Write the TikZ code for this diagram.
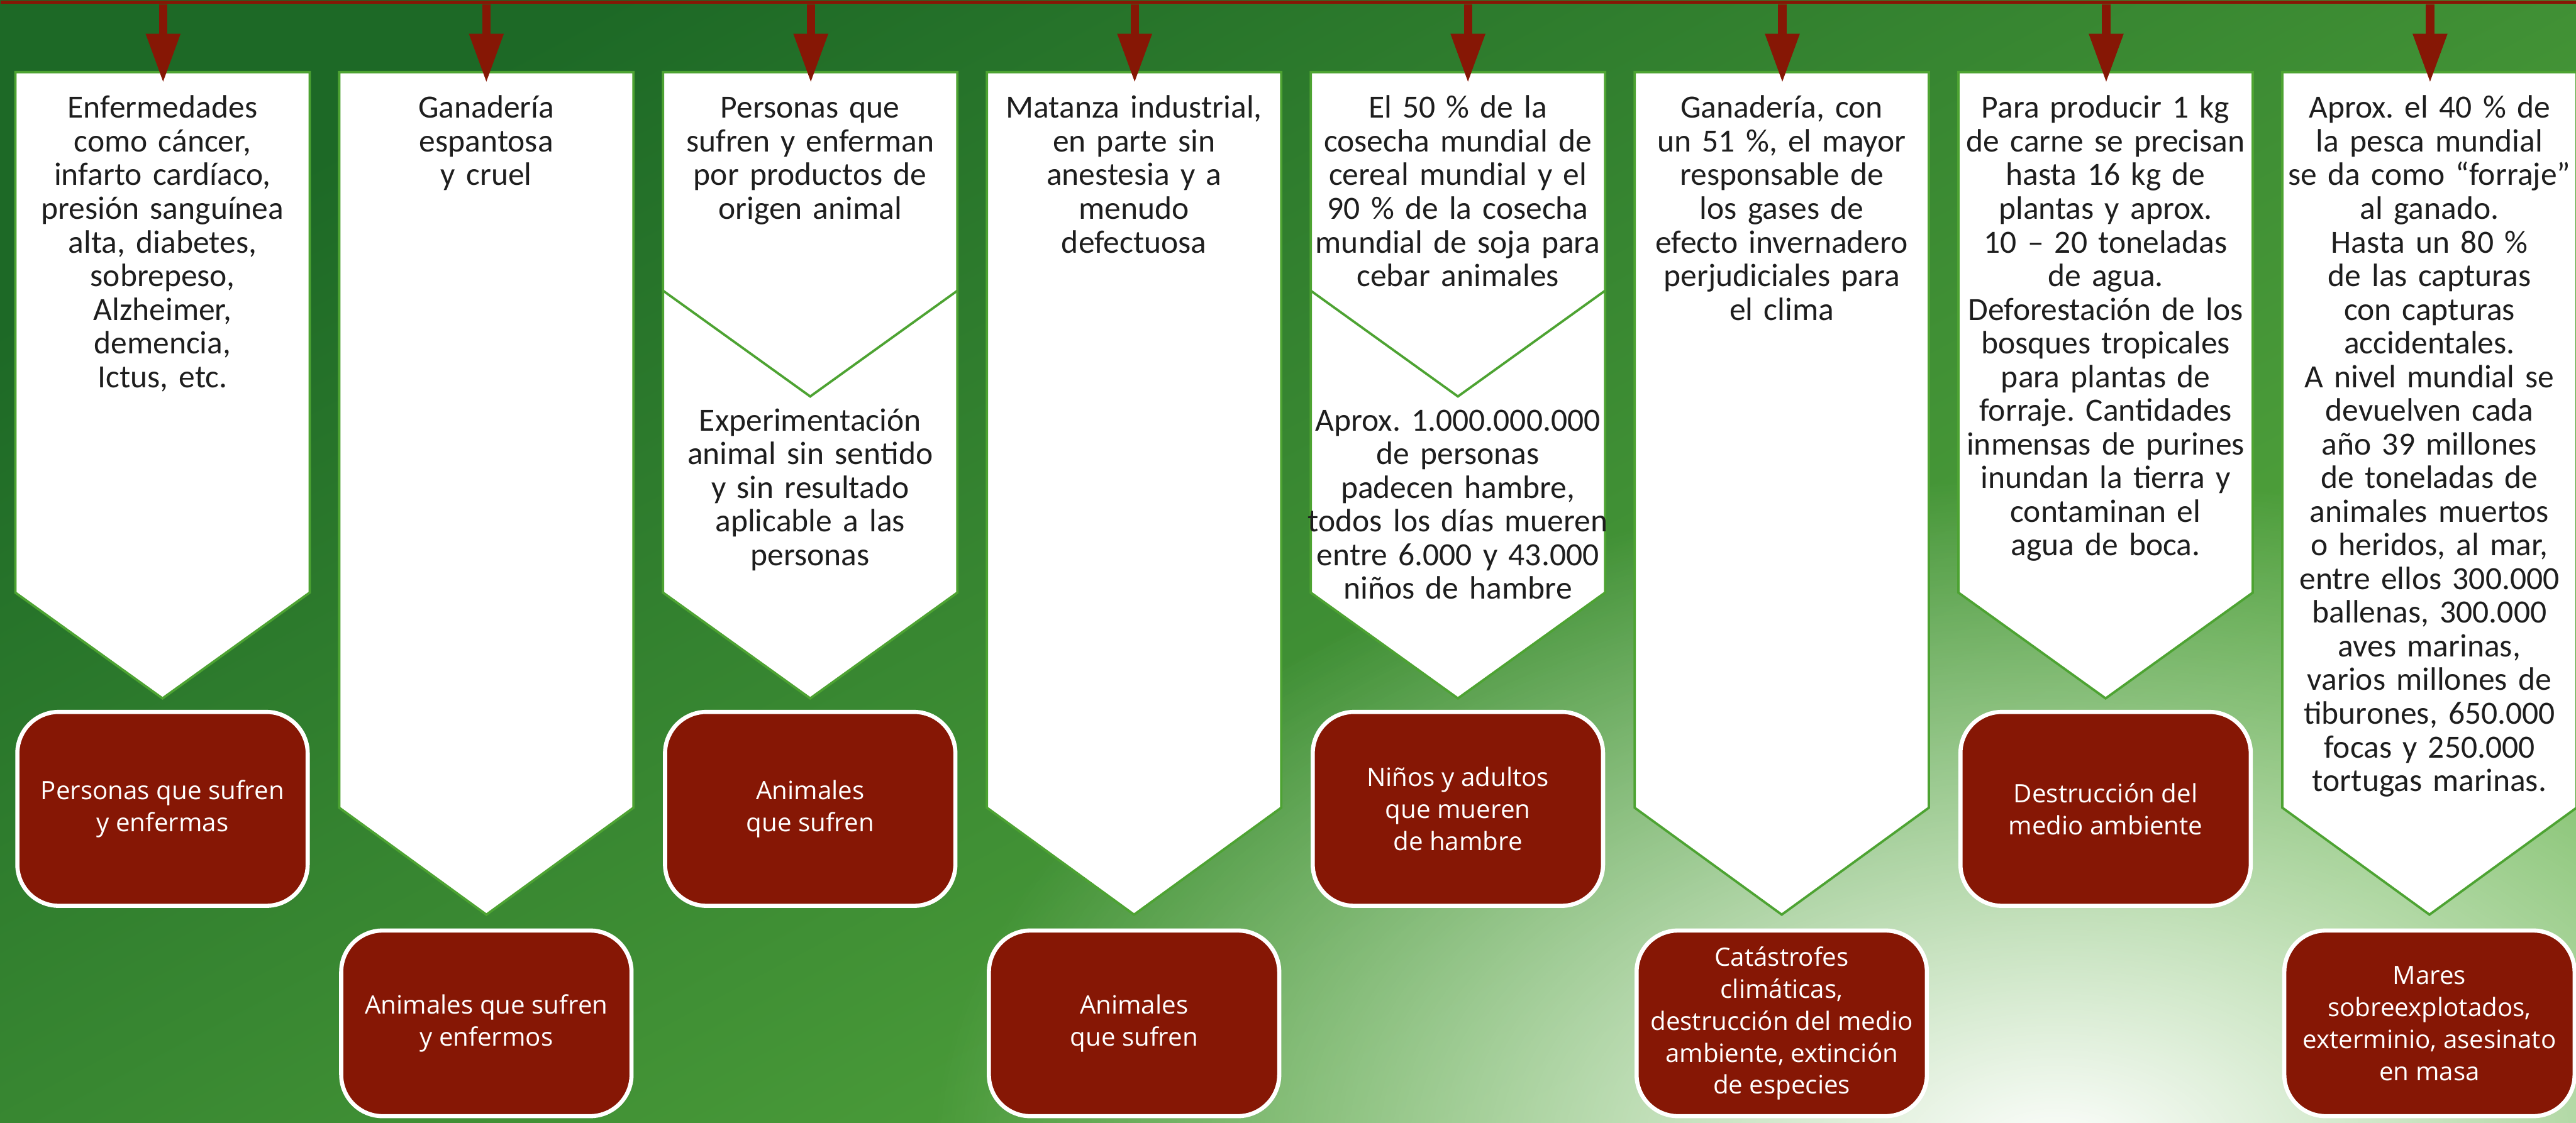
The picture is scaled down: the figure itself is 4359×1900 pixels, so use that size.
\documentclass[tikz,border=0pt]{standalone}
\usepackage{fontspec}
\setmainfont{Carlito}
\newfontfamily\harmfont{Open Sans}
\usetikzlibrary{arrows.meta, fadings, positioning}
\frenchspacing

\definecolor{bgdark}{HTML}{1D6926}
\definecolor{bgmid}{HTML}{2E8C30}
\definecolor{bglight}{HTML}{5BAE40}
\definecolor{panelgreen}{HTML}{4DA332}
\definecolor{harmred}{HTML}{861705}
\definecolor{inktext}{HTML}{1E1E1E}

\tikzfading[name=glowfade, inner color=transparent!0, outer color=transparent!100]

\tikzset{Harms/.style = {% chart of the harms
     x=0.01cm, y=-0.01cm,
     panel/.style = {draw=panelgreen, fill=white, line width=0.04cm, line join=miter},
panelsplit/.style = {draw=panelgreen, line width=0.04cm},
  infotext/.style = {anchor=base, inner sep=0pt, text width=5.4cm, align=center,
                     text=inktext, font=\fontsize{15.6}{16.2}\selectfont},
   harmbox/.style = {draw=white, line width=0.07cm, fill=harmred, rounded corners=0.7cm,
                     minimum width=4.91cm, text=white, align=center,
                     font=\harmfont\fontsize{12.2}{15.4}\selectfont},
  shortbox/.style = {harmbox, minimum height=3.28cm},
   longbox/.style = {harmbox, minimum height=3.14cm},
    topbar/.style = {fill=harmred, inner sep=0pt, anchor=north west,
                     minimum width=43.59cm, minimum height=0.06cm},
 harmarrow/.style = {draw=harmred, line width=0.14cm,
                     -{Triangle[width=0.55cm, length=0.83cm]}}}
        }

\begin{document}
\begin{tikzpicture}[Harms]
\useasboundingbox (0,0) rectangle (4359,1900);

% background
\begin{scope}
\clip (0,0) rectangle (4359,1900);
\shade[top color=bgdark, middle color=bgmid, bottom color=bglight, shading angle=28]
  (0,0) rectangle (4359,1900);
\fill[white, path fading=glowfade] (3480,1960) ellipse [x radius=19cm, y radius=11.5cm];
\end{scope}

% panels
\foreach \L/\S/\T in {26/1003/1182, 574/1367/1548, 1122/1003/1182, 1670/1367/1548,
                      2218/1003/1182, 2766/1367/1548, 3314/1003/1182, 3862/1367/1548}
  \path[panel] (\L,122) -- (\L+498,122) -- (\L+498,\S) -- (\L+249,\T) -- (\L,\S) -- cycle;
\draw[panelsplit] (1122,492) -- (1371,671) -- (1620,492);
\draw[panelsplit] (2218,492) -- (2467,671) -- (2716,492);

% nodes
\node (info1)  [infotext] at (275,200)  {Enfermedades\\como cáncer,\\infarto cardíaco,\\presión sanguínea\\alta, diabetes,\\sobrepeso,\\Alzheimer,\\demencia,\\Ictus, etc.};
\node (info2)  [infotext] at (823,200)  {Ganadería\\espantosa\\y cruel};
\node (info3)  [infotext] at (1371,200) {Personas que\\sufren y enferman\\por productos de\\origen animal};
\node (info3b) [infotext] at (1371,729) {Experimentación\\animal sin sentido\\y sin resultado\\aplicable a las\\personas};
\node (info4)  [infotext] at (1919,200) {Matanza industrial,\\en parte sin\\anestesia y a\\menudo\\defectuosa};
\node (info5)  [infotext] at (2467,200) {El 50 \% de la\\cosecha mundial de\\cereal mundial y el\\90 \% de la cosecha\\mundial de soja para\\cebar animales};
\node (info5b) [infotext] at (2467,729) {Aprox. 1.000.000.000\\de personas\\padecen hambre,\\todos los días mueren\\entre 6.000 y 43.000\\niños de hambre};
\node (info6)  [infotext] at (3015,200) {Ganadería, con\\un 51 \%, el mayor\\responsable de\\los gases de\\efecto invernadero\\perjudiciales para\\el clima};
\node (info7)  [infotext] at (3563,200) {Para producir 1 kg\\de carne se precisan\\hasta 16 kg de\\plantas y aprox.\\10 – 20 toneladas\\de agua.\\Deforestación de los\\bosques tropicales\\para plantas de\\forraje. Cantidades\\inmensas de purines\\inundan la tierra y\\contaminan el\\agua de boca.};
\node (info8)  [infotext] at (4111,200) {Aprox. el 40 \% de\\la pesca mundial\\se da como “forraje”\\al ganado.\\Hasta un 80 \%\\de las capturas\\con capturas\\accidentales.\\A nivel mundial se\\devuelven cada\\año 39 millones\\de toneladas de\\animales muertos\\o heridos, al mar,\\entre ellos 300.000\\ballenas, 300.000\\aves marinas,\\varios millones de\\tiburones, 650.000\\focas y 250.000\\tortugas marinas.};

\node (harm1) [shortbox] at (275,1369)  {Personas que sufren\\y enfermas};
\node (harm2) [longbox]  at (823,1732)  {Animales que sufren\\y enfermos};
\node (harm3) [shortbox] at (1371,1369) {Animales\\que sufren};
\node (harm4) [longbox]  at (1919,1732) {Animales\\que sufren};
\node (harm5) [shortbox] at (2467,1369) {Niños y adultos\\que mueren\\de hambre};
\node (harm6) [longbox]  at (3015,1732) {Catástrofes\\climáticas,\\destrucción del medio\\ambiente, extinción\\de especies};
\node (harm7) [shortbox] at (3563,1369) {Destrucción del\\medio ambiente};
\node (harm8) [longbox]  at (4111,1732) {Mares\\sobreexplotados,\\exterminio, asesinato\\en masa};

% arrows from the top bar
\node (bar) [topbar] at (0,0) {};
\foreach \n/\x in {1/276, 2/823, 3/1372, 4/1920, 5/2484, 6/3016, 7/3564, 8/4112}
  \coordinate (tip\n) at (\x,140);
\foreach \n in {1,...,8}
  \draw[harmarrow] (bar.south -| tip\n) -- (tip\n);

\end{tikzpicture}
\end{document}
